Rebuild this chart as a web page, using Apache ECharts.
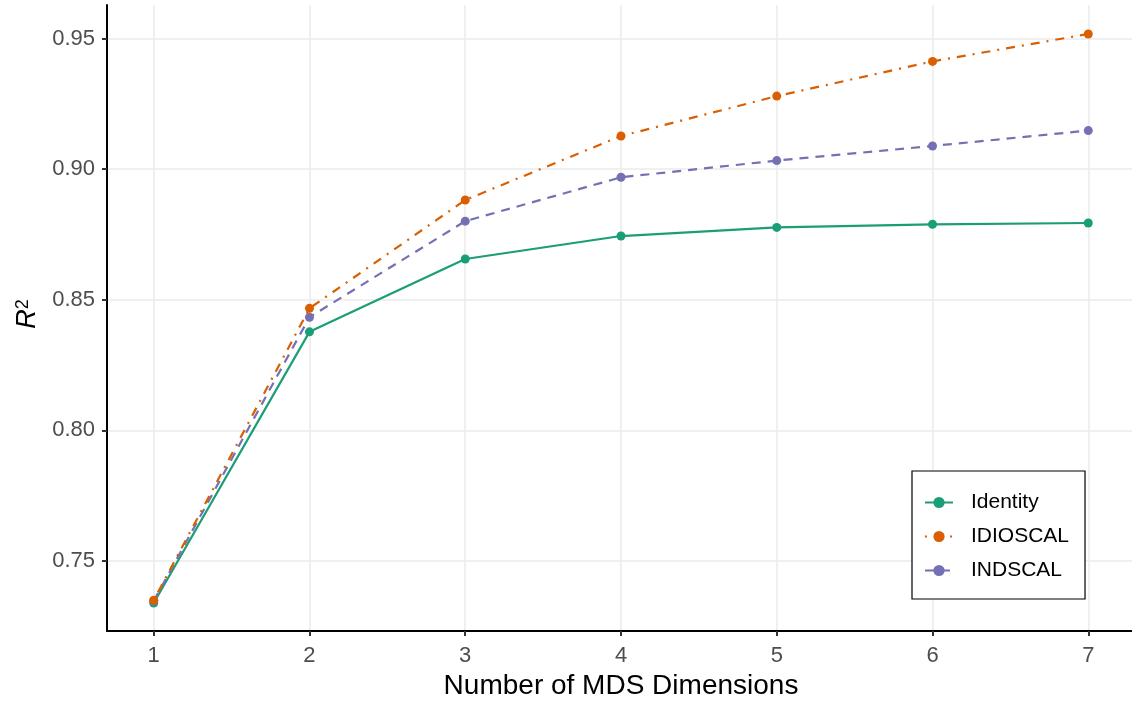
<!DOCTYPE html>
<html>
<head>
<meta charset="utf-8">
<script src="https://cdn.jsdelivr.net/npm/echarts@6/dist/echarts.min.js"></script>
<style>
  html, body { margin: 0; padding: 0; background: #ffffff; overflow: hidden; }
  #chart { width: 1132px; height: 702px; }
</style>
</head>
<body>
<div id="chart"></div>
<script>
// Number of MDS dimensions on the x axis
const dimensions = [1, 2, 3, 4, 5, 6, 7];

// R² per model for each number of dimensions
const identityR2  = [0.7338, 0.8377, 0.8656, 0.8744, 0.8777, 0.8789, 0.8794];
const idioscalR2  = [0.7349, 0.8467, 0.8882, 0.9127, 0.9280, 0.9413, 0.9518];
const indscalR2   = [0.7346, 0.8433, 0.8801, 0.8969, 0.9033, 0.9089, 0.9148];

// Tick positions shown on the axes
const xTicks = [1, 2, 3, 4, 5, 6, 7];
const yTicks = [0.75, 0.80, 0.85, 0.90, 0.95];

const FONT = 'Liberation Sans, Arial, Helvetica, sans-serif';
const pairs = vals => dimensions.map((d, i) => [d, vals[i]]);

const chart = echarts.init(document.getElementById('chart'), null, { renderer: 'canvas' });

const axisCommon = {
  type: 'value',
  axisLine: { show: true, onZero: false, lineStyle: { color: '#000000', width: 2 } },
  axisTick: { show: true, length: 5, lineStyle: { color: '#333333', width: 2 } },
  axisLabel: { color: '#4d4d4d', fontSize: 22, fontFamily: FONT },
  splitLine: { show: true, lineStyle: { color: '#ebebeb', width: 1.5 } },
  nameTextStyle: { color: '#000000', fontSize: 28, fontFamily: FONT }
};

chart.setOption({
  animation: false,
  backgroundColor: '#ffffff',
  grid: {
    left: 107, right: -3, top: 5, bottom: 71,
    containLabel: false, outerBoundsMode: 'none'
  },
  xAxis: Object.assign({}, axisCommon, {
    min: 0.7, max: 7.3,
    name: 'Number of MDS Dimensions',
    nameLocation: 'middle',
    nameGap: 38,
    axisTick: Object.assign({}, axisCommon.axisTick, { customValues: xTicks }),
    axisLabel: Object.assign({}, axisCommon.axisLabel, { customValues: xTicks, margin: 14 })
  }),
  yAxis: Object.assign({}, axisCommon, {
    min: 0.7231, max: 0.9629,
    name: '{r|R}{s|2}',
    nameLocation: 'middle',
    nameGap: 62,
    nameRotate: 90,
    nameTextStyle: {
      color: '#000000', fontFamily: FONT, padding: [0, 0, 0, 8],
      rich: {
        r: { fontSize: 27, fontStyle: 'italic', fontFamily: FONT, color: '#000000' },
        s: { fontSize: 18, fontFamily: FONT, color: '#000000', verticalAlign: 'top', padding: [0, 0, 10, 0] }
      }
    },
    axisTick: Object.assign({}, axisCommon.axisTick, { customValues: yTicks }),
    axisLabel: Object.assign({}, axisCommon.axisLabel, {
      customValues: yTicks, margin: 12,
      formatter: v => v.toFixed(2)
    })
  }),
  legend: {
    orient: 'vertical',
    left: 912, top: 471,
    data: ['Identity', 'IDIOSCAL', 'INDSCAL'],
    backgroundColor: '#ffffff',
    borderColor: '#000000', borderWidth: 1.2, borderRadius: 0,
    padding: [21, 16, 18, 12],
    itemWidth: 28, itemHeight: 14, itemGap: 13,
    textStyle: { color: '#000000', fontSize: 21, fontFamily: FONT, padding: [0, 0, 0, 13] }
  },
  series: [
    {
      name: 'Identity', type: 'line', data: pairs(identityR2),
      color: '#1b9e77', symbol: 'circle', symbolSize: 9, z: 2,
      lineStyle: { width: 2.2, type: 'solid' }
    },
    {
      name: 'INDSCAL', type: 'line', data: pairs(indscalR2),
      color: '#7570b3', symbol: 'circle', symbolSize: 9, z: 3,
      lineStyle: { width: 2.2, type: [9, 7] }
    },
    {
      name: 'IDIOSCAL', type: 'line', data: pairs(idioscalR2),
      color: '#d95f02', symbol: 'circle', symbolSize: 9, z: 4,
      lineStyle: { width: 2.2, type: [2, 7, 9, 7] }
    }
  ]
});
</script>
</body>
</html>
